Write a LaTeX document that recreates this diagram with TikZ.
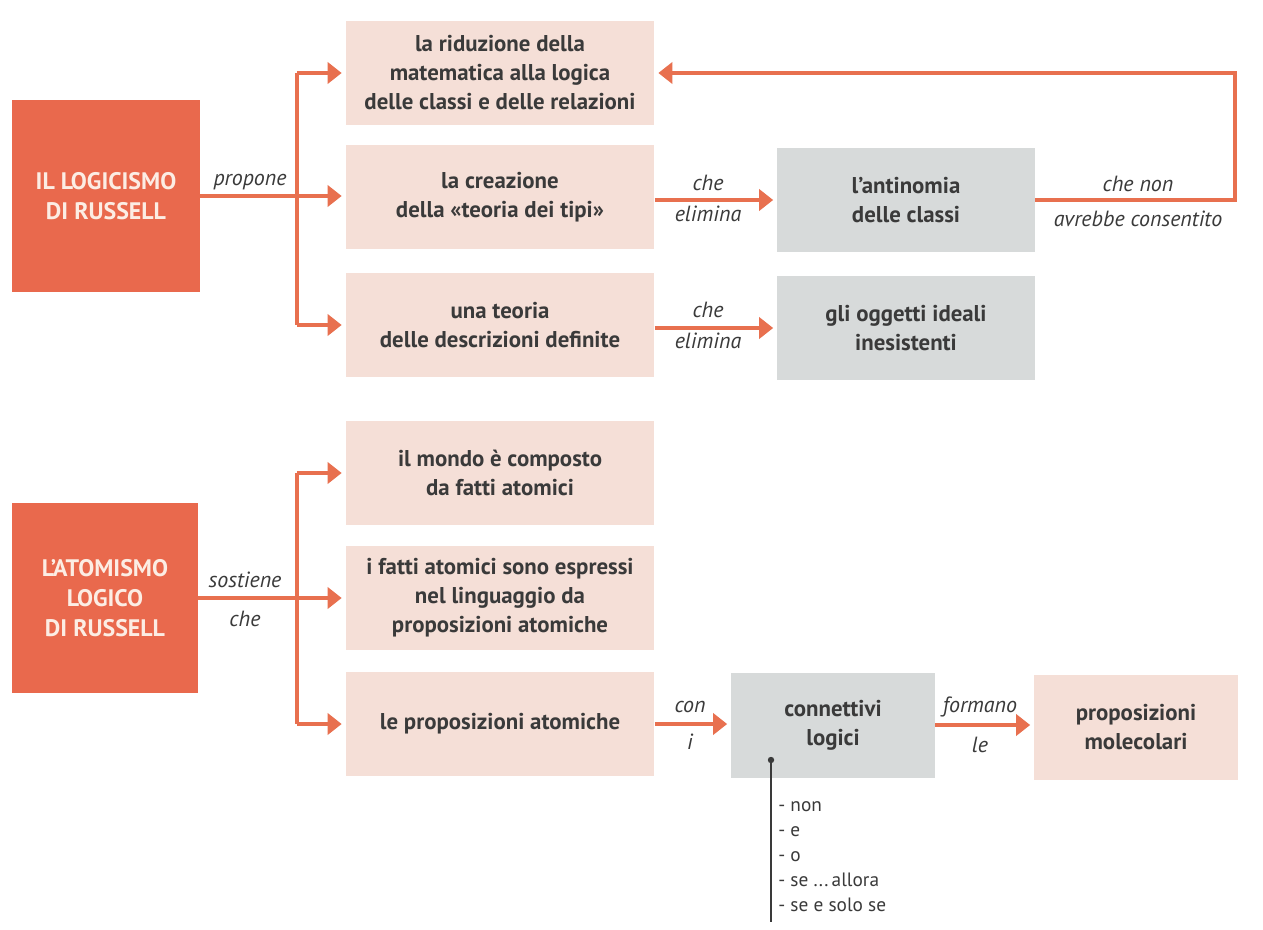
\documentclass[tikz,border=0pt]{standalone}
\usepackage{fontspec}
\setmainfont{PT Sans}
\usetikzlibrary{arrows.meta}
\definecolor{redbox}{HTML}{E9694D}
\definecolor{pinkbox}{HTML}{F5DFD7}
\definecolor{graybox}{HTML}{D7DADA}
\definecolor{arrowc}{HTML}{E8704F}
\definecolor{txt}{HTML}{3A3A3A}
\definecolor{redtxt}{HTML}{FCEDE4}
\tikzset{
  redb/.style={fill=redbox, text=redtxt, font=\fontsize{13.6}{17}\selectfont\bfseries, align=center, minimum width=3.76cm, minimum height=3.84cm, inner sep=0pt},
  pinkb/.style={fill=pinkbox, text=txt, font=\fontsize{13}{16.5}\selectfont\bfseries, align=center, minimum width=6.18cm, minimum height=2.08cm, inner sep=0pt},
  grayb/.style={fill=graybox, text=txt, font=\fontsize{13}{16.5}\selectfont\bfseries, align=center, minimum height=2.1cm, inner sep=0pt},
  conn/.style={draw=arrowc, line width=2.6pt},
  arr/.style={conn, -{Triangle[length=8pt,width=12pt]}, shorten >=2pt},
  lab/.style={text=txt, font=\fontsize{12.5}{15}\selectfont\itshape, inner sep=0pt},
  lst/.style={text=txt, font=\fontsize{11}{14.2}\selectfont, align=left, inner sep=0pt, anchor=north west}
}
\begin{document}
\begin{tikzpicture}[x=0.02cm, y=-0.02cm]
\useasboundingbox[fill=white] (0,0) rectangle (1263,929);
% left boxes
\node[redb] (r1) at (106,196) {IL LOGICISMO\\DI RUSSELL};
\node[redb, minimum width=3.72cm, minimum height=3.8cm] (r2) at (105,598) {L'ATOMISMO\\LOGICO\\DI RUSSELL};
% pink boxes
\node[pinkb] (b1) at (500,73) {la riduzione della\\matematica alla logica\\delle classi e delle relazioni};
\node[pinkb] (b2) at (500,197) {la creazione\\della «teoria dei tipi»};
\node[pinkb] (b3) at (500,325) {una teoria\\delle descrizioni definite};
\node[pinkb] (b4) at (500,473) {il mondo è composto\\da fatti atomici};
\node[pinkb] (b5) at (500,598) {i fatti atomici sono espressi\\nel linguaggio da\\proposizioni atomiche};
\node[pinkb] (b6) at (500,724) {le proposizioni atomiche};
\node[pinkb, minimum width=4.08cm, minimum height=2.1cm] (b7) at (1136,727) {proposizioni\\molecolari};
% gray boxes
\node[grayb, minimum width=5.16cm] (g1) at (906,200) {l'antinomia\\delle classi};
\node[grayb, minimum width=5.16cm] (g2) at (906,328) {gli oggetti ideali\\inesistenti};
\node[grayb, minimum width=4.08cm] (g3) at (833,725) {connettivi\\logici};
% junctions
\coordinate (j1) at (297,0);
\coordinate (j2) at (297,0);
\coordinate (fb) at (1235,0);
% first group
\draw[conn] (r1.east) -- (r1.east -| j1);
\draw[conn] (j1 |- b1.west) -- (j1 |- b3.west);
\draw[arr] (j1 |- b1.west) -- (b1.west);
\draw[arr] (r1.east -| j1) -- (r1.east -| b2.west);
\draw[arr] (j1 |- b3.west) -- (b3.west);
\node[lab] at (250,182) {propone};
% elimina arrows
\draw[arr] (b2.east |- g1.west) -- (g1.west);
\node[lab] at (708,183) {che};
\node[lab] at (708,214) {elimina};
\draw[arr] (b3.east |- g2.west) -- (g2.west);
\node[lab] at (708,310) {che};
\node[lab] at (708,341) {elimina};
% feedback
\draw[arr] (g1.east) -- (g1.east -| fb) -- (fb |- b1.east) -- (b1.east);
\node[lab] at (1138,184) {che non};
\node[lab] at (1138,219) {avrebbe consentito};
% second group
\draw[conn] (r2.east) -- (r2.east -| j2);
\draw[conn] (j2 |- b4.west) -- (j2 |- b6.west);
\draw[arr] (j2 |- b4.west) -- (b4.west);
\draw[arr] (r2.east -| j2) -- (r2.east -| b5.west);
\draw[arr] (j2 |- b6.west) -- (b6.west);
\node[lab] at (245,580) {sostiene};
\node[lab] at (245,619) {che};
% con i / formano le
\draw[arr] (b6.east) -- (b6.east -| g3.west);
\node[lab] at (690,707) {con};
\node[lab] at (690,742) {i};
\draw[arr] (g3.east) -- (g3.east -| b7.west);
\node[lab] at (980,707) {formano};
\node[lab] at (980,745) {le};
% list
\coordinate (dot) at (771,760);
\coordinate (lend) at (771,922);
\fill[txt] (dot) circle (3.2);
\draw[txt, line width=0.6pt] (dot) -- (lend);
\node[lst] (list) at (778,801) {- non\\- e\\- o\\- se ...\,allora\\- se e solo se};
\end{tikzpicture}
\end{document}
